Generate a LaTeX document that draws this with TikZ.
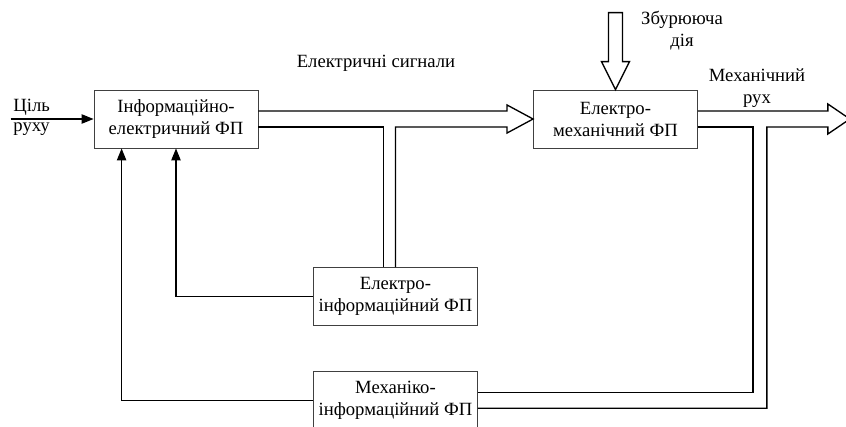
\documentclass[tikz,border=0pt]{standalone}
\usepackage{fontspec}
\setmainfont{Liberation Serif}
\usetikzlibrary{arrows.meta,positioning,calc}

\begin{document}
\begin{tikzpicture}[
  x=0.75pt, y=-0.75pt,
  font=\fontsize{14}{16.5}\selectfont,
  box/.style={rectangle, draw=black!75, line width=0.6pt, minimum width=123pt,
              minimum height=43.5pt, align=center, inner sep=2pt},
  arr/.style={-{Triangle[length=9pt,width=7pt]}, line width=1pt},
  bus/.style={line width=1pt, line join=miter},
  lab/.style={align=center, inner sep=1pt}
]
\useasboundingbox (0,0) rectangle (846,426);

% ---- converters ----
\node[box] (info) at (176,119) {Інформаційно-\\електричний ФП};
\node[box, right=206pt of info] (elmech) {Електро-\\механічний ФП};
\node[box, below right=89pt and 41pt of info] (elinfo) {Електро-\\інформаційний ФП};
\node[box, below=33.75pt of elinfo] (mechinfo) {Механіко-\\інформаційний ФП};

% ---- labels ----
\node[lab] (sig) at (376,63) {Електричні сигнали};
\node[lab] (dist) at (682,31) {Збурююча\\дія};
\node[lab] (move) at (757,88) {Механічний\\рух};

% ---- goal input ----
\coordinate (goal) at ($(info.west)+(-83,0)$);
\draw[arr] (goal) -- (info.west);
\node[lab, anchor=south, inner sep=2.5pt] (goaltop) at ($(goal)+(21,0)$) {Ціль};
\node[lab, anchor=north, inner sep=2.5pt] (goalbot) at ($(goal)+(21,0)$) {руху};

% ---- electric signals bus ----
\coordinate (stip) at (elmech.west);
\coordinate (slo) at ($(stip)+(-26,8)$);
\draw[bus] ($(info.east)+(0,-8)$) -- ($(stip)+(-26,-8)$) -- ++(0,-6) -- (stip)
  -- ++(-26,14) -- (slo) -- (slo -| elinfo.north) -- (elinfo.north);
\draw[bus] ($(info.east)+(0,8)$) -| ($(elinfo.north)+(-12,0)$);

% ---- mechanical motion bus ----
\coordinate (mtip) at ($(elmech.east)+(152,0)$);
\coordinate (ov) at ($(elmech.east)+(69,8)$);
\coordinate (iv) at ($(elmech.east)+(55,8)$);
\draw[bus] ($(elmech.east)+(0,-8)$) -- ($(mtip)+(-22,-8)$) -- ++(0,-7) -- (mtip)
  -- ++(-22,15) -- ++(0,-7) -- (ov) |- ($(mechinfo.east)+(0,8)$);
\draw[bus] ($(elmech.east)+(0,8)$) -- (iv) |- ($(mechinfo.east)+(0,-8)$);

% ---- disturbance ----
\draw[bus] (elmech.north) -- ++(-14,-28) -- ++(7,0) -- ++(0,-49) -- ++(14,0)
  -- ++(0,49) -- ++(7,0) -- cycle;

% feedback
\draw[arr] (elinfo.west) -| (info.south);
\draw[arr] (mechinfo.west) -| ($(info.south west)+(28,0)$);
\end{tikzpicture}
\end{document}
